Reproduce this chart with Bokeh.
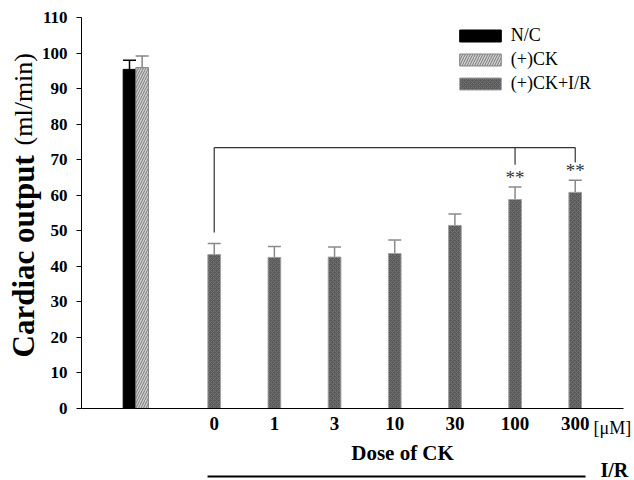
import math
from bokeh.plotting import figure
from bokeh.models import (ColumnDataSource, FixedTicker, Whisker, TeeHead, Legend, LegendItem)
from bokeh.core.properties import value
from bokeh.embed import file_html
from bokeh.resources import INLINE

# ---------------- data ----------------
control_groups = ["N/C", "(+)CK"]
control_values = [95.4, 95.9]
control_errors = [2.6, 3.3]

doses = ["0", "1", "3", "10", "30", "100", "300"]
ir_values = [43.3, 42.5, 42.6, 43.6, 51.5, 58.8, 60.8]
ir_errors = [3.1, 3.1, 2.8, 3.8, 3.2, 3.5, 3.4]
ir_marks = ["", "", "", "", "", "**", "**"]

y_ticks = list(range(0, 111, 10))
bracket_level = 73.4
bracket_drops = {0: 49.5, 5: 68.6, 6: 69.2}

# ---------------- layout ----------------
W, H = 634, 480
SERIF = value("Liberation Serif")
BW = 0.21
ir_x = [1 + i for i in range(len(doses))]
ctrl_x = [-0.408, -0.198]
x_range = (-2.552, 7.985)
y_range = (-20.26, 114.78)
yaxis_x = -1.205
xaxis_bounds = (-1.205, 7.802)

p = figure(width=W, height=H, x_range=x_range, y_range=y_range,
           output_backend="svg", toolbar_location=None, title=None,
           min_border=0, min_border_left=0, min_border_right=0,
           min_border_top=0, min_border_bottom=0)
p.outline_line_color = None
p.xgrid.visible = False
p.ygrid.visible = False
p.background_fill_color = "white"
p.border_fill_color = "white"

# y axis
ya = p.yaxis[0]
ya.fixed_location = yaxis_x
ya.bounds = (0, 110)
ya.ticker = FixedTicker(ticks=y_ticks)
ya.minor_tick_line_color = None
ya.major_tick_in = 0
ya.major_tick_out = 5
ya.major_tick_line_color = "black"
ya.axis_line_color = "black"
ya.major_label_standoff = 9
ya.major_label_text_font = "Liberation Serif"
ya.major_label_text_font_style = "bold"
ya.major_label_text_font_size = "17px"
ya.major_label_text_color = "black"

# x axis
xa = p.xaxis[0]
xa.fixed_location = 0
xa.bounds = xaxis_bounds
xa.ticker = FixedTicker(ticks=ir_x)
xa.major_label_overrides = {x: d for x, d in zip(ir_x, doses)}
xa.minor_tick_line_color = None
xa.major_tick_line_color = None
xa.major_tick_in = 0
xa.major_tick_out = 0
xa.axis_line_color = "black"
xa.major_label_standoff = 9
xa.major_label_text_font = "Liberation Serif"
xa.major_label_text_font_style = "bold"
xa.major_label_text_font_size = "19px"
xa.major_label_text_color = "black"

# bars
r_nc = p.vbar(x=[ctrl_x[0]], top=[control_values[0]], width=BW, bottom=0,
              fill_color="black", line_color="black", line_width=1)
r_ck = p.vbar(x=[ctrl_x[1]], top=[control_values[1]], width=BW, bottom=0,
              fill_color="#cfcfcf", line_color="#858585", line_width=1,
              hatch_pattern="right_diagonal_line", hatch_color="#7a7a7a",
              hatch_scale=5, hatch_weight=1)
r_ir = p.vbar(x=ir_x, top=ir_values, width=BW, bottom=0,
              fill_color="#595959", line_color="#a0a0a0", line_width=1,
              hatch_pattern="diagonal_cross", hatch_color="#727272",
              hatch_scale=4, hatch_weight=1)

# error bars (upper only)
def add_whisker(xs, vals, errs, color):
    src = ColumnDataSource(dict(x=xs, lo=vals, up=[v + e for v, e in zip(vals, errs)]))
    w = Whisker(source=src, base="x", lower="lo", upper="up",
                line_color=color, line_width=1.5, lower_head=None,
                upper_head=TeeHead(size=13, line_color=color, line_width=1.5))
    p.add_layout(w)

add_whisker([ctrl_x[0]], [control_values[0]], [control_errors[0]], "black")
add_whisker([ctrl_x[1]], [control_values[1]], [control_errors[1]], "#858585")
add_whisker(ir_x, ir_values, ir_errors, "#8a8a8a")

# significance bracket
p.segment(x0=[ir_x[0]], y0=[bracket_level], x1=[ir_x[-1]], y1=[bracket_level],
          line_color="#333333", line_width=1.2)
for i, drop in bracket_drops.items():
    p.segment(x0=[ir_x[i]], y0=[bracket_level], x1=[ir_x[i]], y1=[drop],
              line_color="#333333", line_width=1.2)

# stars
star_src = ColumnDataSource(dict(x=ir_x, y=[v + e for v, e in zip(ir_values, ir_errors)], t=ir_marks))
p.text(x="x", y="y", text="t", source=star_src, text_align="center",
       text_baseline="alphabetic", y_offset=-10, text_font=SERIF,
       text_font_size="19px", text_color="#333333")

# unit label next to ticks
p.text(x=[7.304], y=[-5.63], text=["[\u03bcM]"], text_align="left",
       text_baseline="middle", text_font=SERIF, text_font_size="18px", text_color="black")

# x title
p.text(x=[4.13], y=[-12.66], text=["Dose of CK"], text_align="center",
       text_baseline="middle", text_font=SERIF, text_font_style="bold",
       text_font_size="21px", text_color="black")

# I/R line and label
p.segment(x0=[0.889], y0=[-19.13], x1=[7.171], y1=[-19.13], line_color="black", line_width=2)
p.text(x=[7.42], y=[-17.2], text=["I/R"], text_align="left", text_baseline="middle",
       text_font=SERIF, text_font_style="bold", text_font_size="20px", text_color="black")

# y title
p.text(x=[-2.17], y=[14.35], text=["Cardiac output"], angle=math.pi / 2,
       text_align="left", text_baseline="middle", text_font=SERIF,
       text_font_style="bold", text_font_size="31px", text_color="black")
p.text(x=[-2.17], y=[74.0], text=["(ml/min)"], angle=math.pi / 2,
       text_align="left", text_baseline="middle", text_font=SERIF,
       text_font_size="26px", text_color="black")

# legend
legend = Legend(items=[LegendItem(label=control_groups[0], renderers=[r_nc]),
                       LegendItem(label=control_groups[1], renderers=[r_ck]),
                       LegendItem(label="(+)CK+I/R", renderers=[r_ir])],
                location=(453.75, 386.5), glyph_width=52, glyph_height=15,
                label_standoff=5, spacing=3, padding=0, margin=0,
                border_line_color=None, background_fill_alpha=0,
                label_text_font="Liberation Serif", label_text_font_size="18px",
                label_text_color="black")
p.add_layout(legend)

open("out.html", "w").write(file_html(p, INLINE))
